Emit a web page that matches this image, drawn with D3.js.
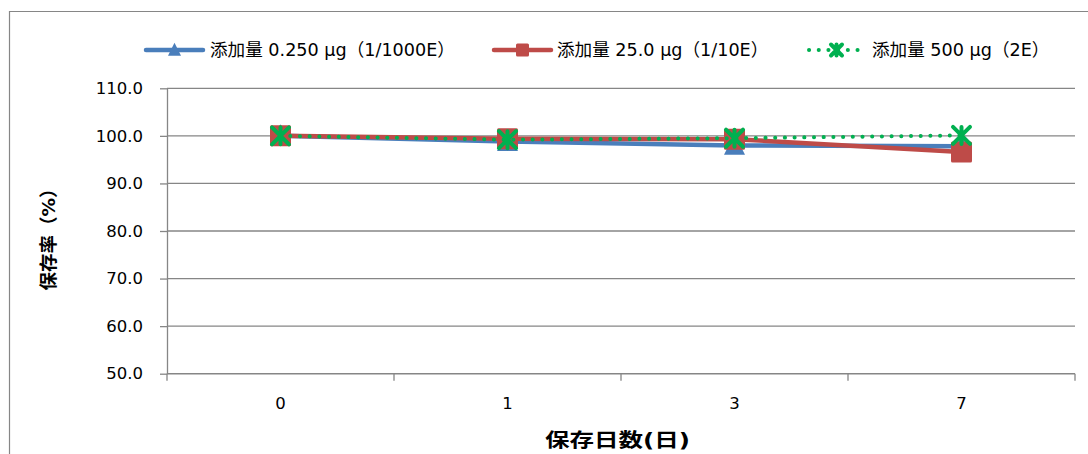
<!DOCTYPE html>
<html>
<head>
<meta charset="utf-8">
<script src="https://cdn.jsdelivr.net/npm/d3@7/dist/d3.min.js"></script>
<style>
  html, body { margin: 0; padding: 0; background: #fff; }
  svg { display: block; }
  text { font-family: "DejaVu Sans", "Noto Sans CJK JP", sans-serif; fill: #000; }
</style>
</head>
<body>
<svg id="chart" width="1088" height="454"></svg>
<script>
// Storage days (categories) and retention (%) per dose
const days = ["0", "1", "3", "7"];
const dose025 = [100.0, 98.8, 98.0, 97.8];
const dose25  = [100.0, 99.4, 99.3, 96.6];
const dose500 = [100.0, 99.2, 99.5, 100.1];
const yTicks = [50, 60, 70, 80, 90, 100, 110];
const seriesNames = ["添加量 0.250 μg（1/1000E）", "添加量 25.0 μg（1/10E）", "添加量 500 μg（2E）"];

const svg = d3.select("#chart");
const W = 1088, H = 454;
const plot = { left: 167, right: 1075, top: 88.3, bottom: 373.7 };
const gridColor = "#868686";
const latin = "'DejaVu Sans', 'Noto Sans CJK JP', sans-serif";
const cjk = "'Noto Sans CJK JP', sans-serif";

// chart frame
svg.append("path")
  .attr("d", `M9.5,${H} V11.5 H${W}`)
  .attr("fill", "none").attr("stroke", gridColor).attr("stroke-width", 1.2);

const x = d3.scaleBand().domain(days).range([plot.left, plot.right]).padding(0);
const y = d3.scaleLinear().domain([50, 110]).range([plot.bottom, plot.top]);
const cx = d => x(d) + x.bandwidth() / 2;

// horizontal gridlines
svg.append("g").selectAll("line")
  .data(yTicks.filter(v => v > 50))
  .join("line")
  .attr("x1", plot.left).attr("x2", plot.right)
  .attr("y1", d => y(d)).attr("y2", d => y(d))
  .attr("stroke", gridColor).attr("stroke-width", 1.3);

// y axis
const yAxis = svg.append("g")
  .attr("transform", `translate(${plot.left},0)`)
  .call(d3.axisLeft(y).tickValues(yTicks).tickFormat(d3.format(".1f")).tickSize(7).tickSizeOuter(0).tickPadding(17));
yAxis.select(".domain").attr("stroke", gridColor).attr("stroke-width", 1.3);
yAxis.selectAll(".tick line").attr("stroke", gridColor).attr("stroke-width", 1.3);
yAxis.selectAll(".tick text").attr("font-size", 16.5).attr("font-family", latin).attr("fill", "#000");

// x axis: ticks between categories, labels centred in bands
const xb = svg.append("g");
xb.append("line")
  .attr("x1", plot.left).attr("x2", plot.right)
  .attr("y1", plot.bottom).attr("y2", plot.bottom)
  .attr("stroke", gridColor).attr("stroke-width", 1.5);
const bounds = days.map(d => x(d)).concat([plot.right]);
xb.selectAll("line.tk").data(bounds).join("line").attr("class", "tk")
  .attr("x1", d => d).attr("x2", d => d)
  .attr("y1", plot.bottom).attr("y2", plot.bottom + 7)
  .attr("stroke", gridColor).attr("stroke-width", 1.3);
xb.selectAll("text").data(days).join("text")
  .attr("x", d => cx(d)).attr("y", 409)
  .attr("text-anchor", "middle").attr("font-size", 16.5)
  .attr("font-family", latin)
  .text(d => d);

// axis titles
svg.append("text")
  .attr("x", 545).attr("y", 447)
  .attr("font-size", 19).attr("font-weight", "bold")
  .attr("font-family", cjk)
  .attr("textLength", 145).attr("lengthAdjust", "spacingAndGlyphs")
  .text("保存日数(日)");
svg.append("text")
  .attr("transform", "translate(55,235) rotate(-90)")
  .attr("text-anchor", "middle").attr("font-size", 18.5).attr("font-weight", "bold")
  .attr("font-family", cjk)
  .text("保存率（%）");

const line = d3.line().x((d, i) => cx(days[i])).y(d => y(d));
const blue = "#4a7ebb", red = "#be4b48", green = "#00b050";

// marker painters
function triangle(g, px, py, s) {
  g.append("path")
    .attr("d", `M${px},${py - s * 0.55} L${px + s / 2},${py + s * 0.45} L${px - s / 2},${py + s * 0.45} Z`)
    .attr("fill", blue);
}
function square(g, px, py, s) {
  g.append("rect").attr("x", px - s / 2).attr("y", py - s / 2)
    .attr("width", s).attr("height", s).attr("rx", 1.5).attr("fill", red);
}
function star(g, px, py, s) {
  const h = s / 2;
  g.append("path")
    .attr("d", `M${px - h},${py - h} L${px + h},${py + h} M${px - h},${py + h} L${px + h},${py - h} M${px},${py - h} V${py + h}`)
    .attr("stroke", green).attr("stroke-width", 4).attr("stroke-linecap", "round").attr("fill", "none");
}

// series 1: blue with triangles
const g1 = svg.append("g");
g1.append("path").datum(dose025).attr("d", line)
  .attr("fill", "none").attr("stroke", blue).attr("stroke-width", 4.5).attr("stroke-linejoin", "round");
dose025.forEach((v, i) => triangle(g1, cx(days[i]), y(v), 21));

// series 2: red with squares
const g2 = svg.append("g");
g2.append("path").datum(dose25).attr("d", line)
  .attr("fill", "none").attr("stroke", red).attr("stroke-width", 4.5).attr("stroke-linejoin", "round");
dose25.forEach((v, i) => square(g2, cx(days[i]), y(v), 21));

// series 3: green dotted with stars
const g3 = svg.append("g");
g3.append("path").datum(dose500).attr("d", line)
  .attr("fill", "none").attr("stroke", green).attr("stroke-width", 4)
  .attr("stroke-dasharray", "0.1 9.6").attr("stroke-linecap", "round");
dose500.forEach((v, i) => star(g3, cx(days[i]), y(v), 17));

// legend
const lg = svg.append("g");
const legendY = 50;
const items = [
  { x0: 146, x1: 203, text: seriesNames[0], tx: 210, kind: "tri" },
  { x0: 494, x1: 551, text: seriesNames[1], tx: 557, kind: "sq" },
  { x0: 809, x1: 860, text: seriesNames[2], tx: 872, kind: "star" }
];
items.forEach(it => {
  const mid = (it.x0 + it.x1) / 2;
  if (it.kind === "tri") {
    lg.append("line").attr("x1", it.x0).attr("x2", it.x1).attr("y1", legendY).attr("y2", legendY)
      .attr("stroke", blue).attr("stroke-width", 4.5).attr("stroke-linecap", "round");
    triangle(lg, mid, legendY, 13);
  } else if (it.kind === "sq") {
    lg.append("line").attr("x1", it.x0).attr("x2", it.x1).attr("y1", legendY).attr("y2", legendY)
      .attr("stroke", red).attr("stroke-width", 4.5).attr("stroke-linecap", "round");
    square(lg, mid, legendY, 13);
  } else {
    lg.append("line").attr("x1", it.x0).attr("x2", it.x1).attr("y1", legendY).attr("y2", legendY)
      .attr("stroke", green).attr("stroke-width", 4).attr("stroke-dasharray", "0.1 9.6").attr("stroke-linecap", "round");
    star(lg, mid + 2, legendY, 11);
  }
  lg.append("text").attr("x", it.tx).attr("y", legendY + 6)
    .attr("font-size", 17.6).attr("font-family", latin)
    .text(it.text);
});
</script>
</body>
</html>
